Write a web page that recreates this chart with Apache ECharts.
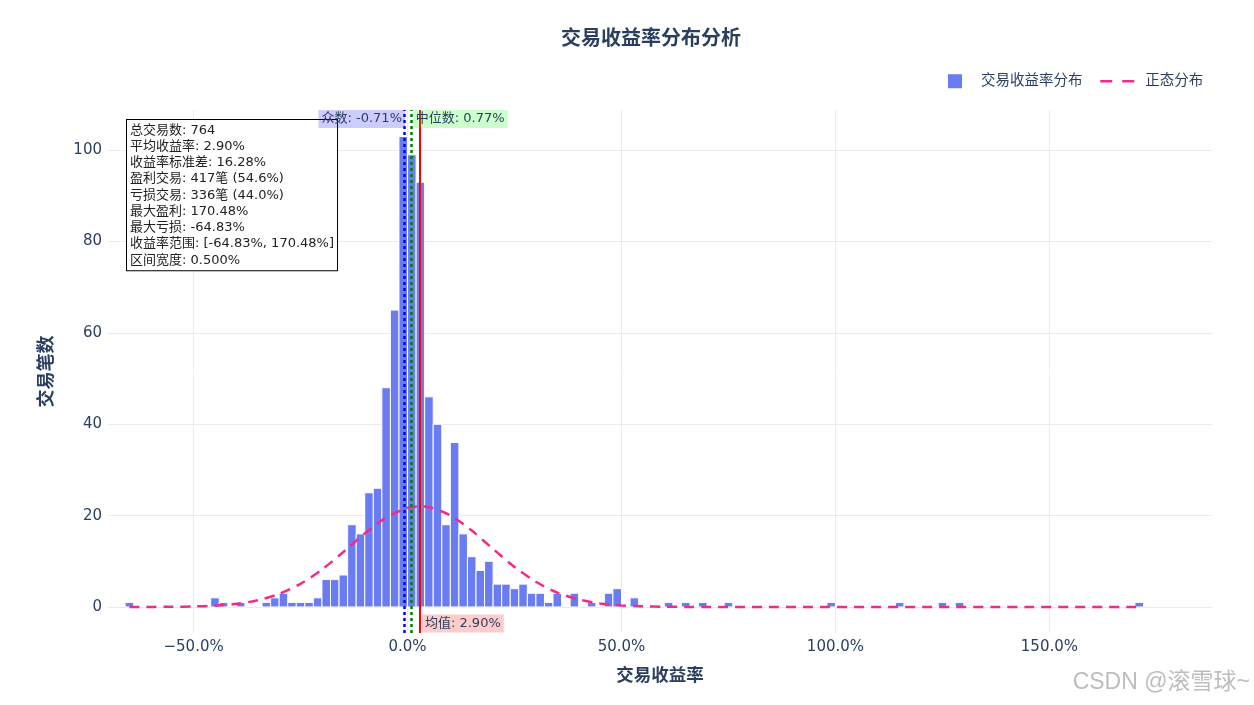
<!DOCTYPE html>
<html>
<head>
<meta charset="utf-8">
<script src="https://cdn.jsdelivr.net/npm/echarts@6/dist/echarts.min.js"></script>
<style>html,body{margin:0;padding:0;background:#fff}#c{width:1254px;height:705px}</style>
</head>
<body>
<div id="c"></div>
<script>
// ---- data ----
const binLeft = [-66,-46,-44,-40,-34,-32,-30,-28,-26,-24,-22,-20,-18,-16,-14,-12,-10,-8,-6,-4,-2,0,2,4,6,8,10,12,14,16,18,20,22,24,26,28,30,32,34,38,42,46,48,52,60,64,68,74,98,114,124,128,170];
const binCounts = [1,2,1,1,1,2,3,1,1,1,2,6,6,7,18,16,25,26,48,65,103,99,93,46,40,18,36,16,11,8,10,5,5,4,5,3,3,1,3,3,1,3,4,2,1,1,1,1,1,1,1,1,1];
const binWidth = 2;
const normX = [-65,-55,-50,-45,-40,-35,-30,-25,-20,-15,-10,-5,0,2.5,5,10,15,20,25,30,35,40,45,50,55,60,65,70,170.5];
const normY = [0,0.04,0.11,0.29,0.68,1.47,2.86,5.07,8.19,12.03,16.1,19.58,21.68,22.0,21.85,20.03,16.72,12.69,8.77,5.51,3.15,1.64,0.78,0.34,0.13,0.05,0.01,0,0];
const xTicks = [-50,0,50,100,150];
const yTicks = [0,20,40,60,80,100];
const modeVal = -0.71, medianVal = 0.77, meanVal = 2.90;
const statLines = [
  '总交易数: 764',
  '平均收益率: 2.90%',
  '收益率标准差: 16.28%',
  '盈利交易: 417笔 (54.6%)',
  '亏损交易: 336笔 (44.0%)',
  '最大盈利: 170.48%',
  '最大亏损: -64.83%',
  '收益率范围: [-64.83%, 170.48%]',
  '区间宽度: 0.500%'
];

// ---- styling ----
const FONT = '"DejaVu Sans", "Noto Sans CJK SC", sans-serif';
const TEXT = '#2a3f5f';
const BAR = '#6a7cf1';
const PINK = '#f52a88';
const GRID = '#e9ebef';
const X_MIN = -70, X_MAX = 188, Y_MIN = -5.7, Y_MAX = 108.8;

const fmtPct = v => (v < 0 ? '\u2212' : '') + Math.abs(v).toFixed(1) + '%';

const chart = echarts.init(document.getElementById('c'), null, {renderer: 'canvas'});
chart.setOption({
  animation: false,
  backgroundColor: '#fff',
  textStyle: {fontFamily: FONT},
  grid: {left: 108, right: 42, top: 110, bottom: 72},
  legend: [
    {data: [{name: '交易收益率分布', icon: 'rect'}], left: 948, top: 74, itemWidth: 14, itemHeight: 14, padding: 0,
     selectedMode: false, textStyle: {color: TEXT, fontSize: 14.5, fontFamily: FONT, padding: [0, 0, 0, 14]}},
    {data: [{name: '正态分布', lineStyle: {type: [12, 10], width: 2.5}, itemStyle: {opacity: 0, borderWidth: 0}}],
     left: 1099, top: 74, itemWidth: 34, itemHeight: 14, padding: 0,
     selectedMode: false, textStyle: {color: TEXT, fontSize: 14.5, fontFamily: FONT, padding: [0, 0, 0, 6]}}
  ],
  xAxis: {
    type: 'value', min: X_MIN, max: X_MAX,
    axisLine: {show: false},
    axisTick: {show: false, customValues: xTicks},
    axisLabel: {customValues: xTicks, formatter: fmtPct, color: TEXT, fontSize: 15, margin: 7, fontFamily: FONT},
    splitLine: {show: true, lineStyle: {color: GRID, width: 1}},
    name: '交易收益率', nameLocation: 'middle', nameGap: 35,
    nameTextStyle: {color: TEXT, fontSize: 17.5, fontWeight: 'bold', fontFamily: FONT}
  },
  yAxis: {
    type: 'value', min: Y_MIN, max: Y_MAX,
    axisLine: {show: false},
    axisTick: {show: false, customValues: yTicks},
    axisLabel: {customValues: yTicks, color: TEXT, fontSize: 15, margin: 6, fontFamily: FONT},
    splitLine: {show: true, lineStyle: {color: GRID, width: 1}},
    name: '交易笔数', nameLocation: 'middle', nameGap: 52, nameRotate: 90,
    nameTextStyle: {color: TEXT, fontSize: 18, fontWeight: 'bold', fontFamily: FONT}
  },
  series: [
    {
      type: 'custom', name: '交易收益率分布', z: 2,
      data: binLeft.map((l, i) => [l, l + binWidth, binCounts[i]]),
      encode: {x: [0, 1], y: 2},
      itemStyle: {color: BAR},
      renderItem: (params, api) => {
        const p0 = api.coord([api.value(0), api.value(2)]);
        const p1 = api.coord([api.value(1), 0]);
        return {type: 'rect', shape: {x: p0[0], y: p0[1], width: p1[0] - p0[0], height: p1[1] - p0[1]},
                style: {fill: BAR, stroke: '#ffffff', lineWidth: 1}};
      }
    },
    {
      type: 'line', name: '正态分布', z: 3,
      data: normX.map((x, i) => [x, normY[i]]),
      smooth: 0.3, symbol: 'none',
      lineStyle: {color: PINK, width: 2.5, type: [10, 7]},
      itemStyle: {color: PINK}
    },
    {
      type: 'line', name: 'refs', z: 5, data: [], silent: true,
      markLine: {
        silent: true, symbol: ['none', 'none'], label: {show: false}, animation: false,
        data: [
          {xAxis: modeVal, lineStyle: {color: '#0000ff', width: 2.5, type: [3, 3]}},
          {xAxis: medianVal, lineStyle: {color: '#008000', width: 2.5, type: [3, 3]}},
          {xAxis: meanVal, lineStyle: {color: '#ff0000', width: 2, type: 'solid'}}
        ]
      },
      markPoint: {
        silent: true, symbol: 'rect', symbolSize: 1, itemStyle: {color: 'rgba(0,0,0,0)'}, animation: false,
        label: {show: true, color: TEXT, fontSize: 13, fontFamily: FONT, padding: [2, 3, 2, 3], lineHeight: 14},
        data: [
          {coord: [modeVal, Y_MAX], label: {formatter: '众数: ' + modeVal.toFixed(2) + '%', position: 'left', distance: -1, offset: [0, 9], backgroundColor: 'rgba(0,0,255,0.2)'}},
          {coord: [medianVal, Y_MAX], label: {formatter: '中位数: ' + medianVal.toFixed(2) + '%', position: 'right', distance: 1.5, offset: [0, 9], backgroundColor: 'rgba(0,255,0,0.2)'}},
          {coord: [meanVal, Y_MIN], label: {formatter: '均值: ' + meanVal.toFixed(2) + '%', position: 'right', distance: 1.5, offset: [0, -9.5], backgroundColor: 'rgba(255,0,0,0.2)'}}
        ]
      }
    }
  ],
  graphic: [
    {type: 'text', x: 651, y: 30, z: 20,
     style: {text: '交易收益率分布分析', fill: TEXT, font: 'bold 20px ' + FONT, textAlign: 'center'}},
    {type: 'text', x: 127, y: 120, z: 4,
     style: {text: statLines.join('\n'), fill: '#222', font: '13px ' + FONT, lineHeight: 16.25,
             backgroundColor: '#ffffff', borderColor: '#000000', borderWidth: 1, padding: [2, 3, 2, 3]}},
    {type: 'text', right: 4, top: 671, z: 20,
     style: {text: 'CSDN @滚雪球~', fill: '#bdbdbd', font: '23px "Liberation Sans", "Noto Sans CJK SC", sans-serif'}}
  ]
});
</script>
</body>
</html>
